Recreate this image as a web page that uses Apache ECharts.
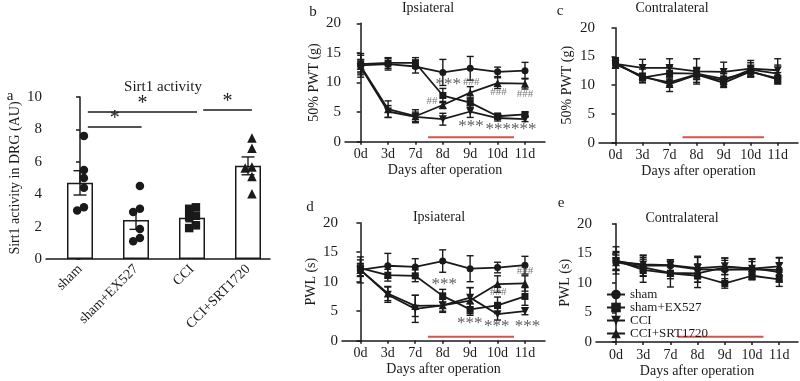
<!DOCTYPE html>
<html lang="en">
<head>
<meta charset="UTF-8">
<title>Sirt1 activity and pain thresholds</title>
<script src="https://cdn.jsdelivr.net/npm/echarts@6/dist/echarts.min.js"></script>
<style>
    html, body { margin: 0; padding: 0; background: #fff; }
    #chart { width: 800px; height: 381px; }
</style>
</head>
<body>
<div id="chart"></div>
<script>
    var groups = ['sham', 'sham+EX527', 'CCI', 'CCI+SRT1720'];
    var days = ['0d', '3d', '7d', '8d', '9d', '10d', '11d'];

    // a: Sirt1 activity, one dot per animal
    var dotsSham = [7.6, 5.5, 5.0, 4.4, 3.2, 3.0];
    var dotsEx527 = [4.5, 3.1, 2.9, 1.85, 1.3, 1.1];
    var dotsCci = [3.19, 3.1, 2.67, 2.59, 2.08, 1.91];
    var dotsSrt = [7.47, 6.83, 5.68, 5.62, 5.1, 4.03];
    var barMean = [4.7, 2.4, 2.55, 5.75];
    var barSem = [0.75, 0.57, 0.25, 0.55];
    // significance brackets: from group, to group, height
    var brackets = [[0.14, 1.1, 8.19], [0.14, 2.09, 9.07], [2.2, 3.07, 9.2]];

    // b: ipsilateral 50% PWT (g)
    var pwtIpsiSham = [12.9, 13.1, 12.7, 11.7, 12.4, 11.8, 12.0];
    var pwtIpsiEx = [13.1, 13.3, 13.3, 7.8, 6.6, 4.3, 4.6];
    var pwtIpsiCci = [12.6, 5.1, 4.2, 3.8, 5.1, 4.0, 3.8];
    var pwtIpsiSrt = [12.8, 5.5, 4.3, 6.2, 8.3, 9.9, 9.8];
    var pwtIpsiSemSham = [2.0, 1.0, 1.1, 2.2, 2.0, 0.8, 1.4];
    var pwtIpsiSemEx = [1.5, 0.9, 0.9, 1.2, 0.8, 0.5, 0.4];
    var pwtIpsiSemCci = [1.3, 1.0, 0.8, 1.0, 1.0, 0.5, 0.4];
    var pwtIpsiSemSrt = [1.0, 1.4, 1.1, 0.6, 1.0, 0.9, 0.9];

    // c: contralateral 50% PWT (g)
    var pwtContraSham = [13.8, 11.4, 10.5, 11.9, 10.4, 12.4, 11.0];
    var pwtContraEx = [13.9, 11.3, 12.1, 12.0, 11.1, 12.3, 11.2];
    var pwtContraCci = [13.7, 13.0, 13.0, 12.4, 12.3, 12.9, 12.6];
    var pwtContraSrt = [13.6, 11.6, 10.2, 11.8, 10.8, 12.7, 12.0];
    var pwtContraSemSham = [0.8, 0.6, 0.6, 0.9, 0.6, 0.8, 0.7];
    var pwtContraSemEx = [0.9, 0.8, 1.2, 1.0, 1.0, 0.9, 1.0];
    var pwtContraSemCci = [0.7, 1.5, 1.6, 2.2, 1.7, 1.4, 2.0];
    var pwtContraSemSrt = [0.6, 1.2, 1.3, 1.3, 1.2, 1.2, 1.5];

    // d: ipsilateral PWL (s)
    var pwlIpsiSham = [12.0, 12.7, 12.5, 13.5, 12.2, 12.4, 12.8];
    var pwlIpsiEx = [12.3, 11.1, 11.0, 7.6, 5.3, 6.0, 7.5];
    var pwlIpsiCci = [12.0, 7.8, 5.4, 6.0, 7.3, 4.5, 5.0];
    var pwlIpsiSrt = [12.0, 8.0, 5.9, 6.0, 6.8, 9.6, 9.7];
    var pwlIpsiSemSham = [2.2, 2.1, 1.4, 1.9, 2.2, 0.9, 1.5];
    var pwlIpsiSemEx = [1.4, 1.0, 1.0, 1.1, 1.0, 1.4, 1.5];
    var pwlIpsiSemCci = [1.0, 1.3, 2.3, 1.2, 1.7, 1.0, 0.6];
    var pwlIpsiSemSrt = [1.1, 1.2, 1.8, 1.0, 2.2, 1.4, 1.3];

    // e: contralateral PWL (s)
    var pwlContraSham = [13.7, 12.9, 12.9, 12.3, 12.2, 12.3, 12.2];
    var pwlContraEx = [13.8, 12.2, 11.6, 11.2, 9.9, 11.2, 10.6];
    var pwlContraCci = [13.6, 13.1, 13.0, 12.5, 12.8, 12.4, 12.8];
    var pwlContraSrt = [13.5, 12.6, 11.7, 11.6, 12.6, 12.5, 11.8];
    var pwlContraSemSham = [1.6, 1.8, 1.0, 2.2, 2.0, 1.8, 2.0];
    var pwlContraSemEx = [2.3, 2.1, 2.3, 2.0, 0.8, 0.6, 1.2];
    var pwlContraSemCci = [1.5, 1.5, 0.9, 1.8, 1.4, 1.6, 1.5];
    var pwlContraSemSrt = [1.2, 1.4, 1.0, 1.5, 1.2, 1.1, 1.6];

    // significance marks [day position, value, text]
    var notesB = [[3.2, 10.1, '***'], [4.04, 10.1, '###'], [2.6, 6.8, '##'], [5.03, 8.3, '###'],
                  [6.0, 8.0, '###'], [4.03, 3.1, '***'], [5.49, 2.5, '******']];
    var notesD = [[3.06, 10.0, '***'], [6.0, 11.8, '###'], [5.03, 8.3, '###'],
                  [3.99, 3.5, '***'], [4.97, 2.9, '***'], [6.09, 2.9, '***']];
    // treatment period (red line under the curves): [from, to, level]
    var treatB = [2.46, 5.6, 0.75];
    var treatC = [2.48, 5.49, 0.94];
    var treatD = [2.46, 5.6, 0.68];
    var treatE = [2.27, 5.42, 0.9];

    var font = 'Liberation Serif';
    var ink = '#1a1a1a';
    var markers = [
        {symbol: 'circle', rotate: 0, size: 7},
        {symbol: 'rect', rotate: 0, size: 7},
        {symbol: 'triangle', rotate: 180, size: 8},
        {symbol: 'triangle', rotate: 0, size: 8}
    ];

    var chart = echarts.init(document.getElementById('chart'));
    var dayIdx = days.map(function (d, i) { return i; });

    function yAxisFor(gi, max, interval, name, gap) {
        return {
            type: 'value', gridIndex: gi, min: 0, max: max, interval: interval,
            name: name, nameLocation: 'middle', nameGap: gap, nameRotate: 90,
            nameTextStyle: {fontFamily: font, fontSize: 14, color: ink},
            axisLine: {show: true, lineStyle: {color: ink, width: 1.5}},
            axisTick: {show: true, length: 4, lineStyle: {color: ink, width: 1.5}},
            axisLabel: {fontFamily: font, fontSize: 15, color: ink, margin: 4},
            splitLine: {show: false}
        };
    }

    function dayAxis(gi, min, max) {
        return {
            type: 'value', gridIndex: gi, min: min, max: max,
            name: 'Days after operation', nameLocation: 'middle', nameGap: 22,
            nameTextStyle: {fontFamily: font, fontSize: 14, color: ink},
            axisLine: {show: true, onZero: false, lineStyle: {color: ink, width: 1.5}},
            axisTick: {show: true, length: 3, customValues: dayIdx, lineStyle: {color: ink, width: 1.5}},
            axisLabel: {
                fontFamily: font, fontSize: 14, color: ink, margin: 6, customValues: dayIdx,
                formatter: function (v) { return days[Math.round(v)]; }
            },
            splitLine: {show: false}
        };
    }

    function errorSeries(ai, pts, cap) {
        return {
            type: 'custom', xAxisIndex: ai, yAxisIndex: ai, z: 2, silent: true,
            encode: {x: 0, y: 1},
            data: pts,
            renderItem: function (params, api) {
                var x = api.value(0), m = api.value(1), s = api.value(2);
                var top = api.coord([x, m + s]);
                var bot = api.coord([x, m - s]);
                var st = {stroke: ink, lineWidth: 1.4};
                return {
                    type: 'group', children: [
                        {type: 'line', shape: {x1: top[0], y1: top[1], x2: bot[0], y2: bot[1]}, style: st},
                        {type: 'line', shape: {x1: top[0] - cap, y1: top[1], x2: top[0] + cap, y2: top[1]}, style: st},
                        {type: 'line', shape: {x1: bot[0] - cap, y1: bot[1], x2: bot[0] + cap, y2: bot[1]}, style: st}
                    ]
                };
            }
        };
    }

    // spread dots of one group sideways when they would overlap
    var DOT_SHIFT = 0.07, DOT_SPREAD = 0.12;
    function swarm(values, gi) {
        var placed = [];
        return values.map(function (v) {
            var steps = [0, -1, 1];
            for (var k = 0; k < steps.length; k++) {
                var clash = placed.some(function (p) {
                    return p.s === steps[k] && Math.abs(p.v - v) < 0.42;
                });
                if (!clash) {
                    placed.push({v: v, s: steps[k]});
                    return [gi + DOT_SHIFT + steps[k] * DOT_SPREAD, v];
                }
            }
            return [gi + DOT_SHIFT, v];
        });
    }

    var series = [];

    // panel a
    series.push({
        type: 'bar', xAxisIndex: 0, yAxisIndex: 0, barWidth: 26, z: 1, silent: true,
        itemStyle: {color: '#fff', borderColor: ink, borderWidth: 1.5},
        data: barMean.map(function (v, i) { return [i, v]; }),
        markLine: {
            silent: true, symbol: 'none',
            lineStyle: {color: ink, width: 1.5, type: 'solid'},
            label: {show: true, position: 'middle', formatter: '*', fontFamily: font, fontSize: 20, color: ink, distance: -2},
            data: brackets.map(function (b) { return [{coord: [b[0], b[2]]}, {coord: [b[1], b[2]]}]; })
        }
    });
    series.push(errorSeries(0, barMean.map(function (v, i) { return [i, v, barSem[i]]; }), 6.5));
    [dotsSham, dotsEx527, dotsCci, dotsSrt].forEach(function (dots, gi) {
        var mk = [markers[0], markers[0], markers[1], markers[3]][gi];
        series.push({
            type: 'scatter', xAxisIndex: 0, yAxisIndex: 0, z: 4, silent: true,
            symbol: mk.symbol, symbolSize: mk.size + 1.5,
            itemStyle: {color: ink, opacity: 1},
            data: swarm(dots, gi)
        });
    });

    function linePanel(ai, means, sems, treat) {
        means.forEach(function (arr, gi) {
            series.push(errorSeries(ai, arr.map(function (v, i) { return [i, v, sems[gi][i]]; }), 3.5));
        });
        means.forEach(function (arr, gi) {
            var mk = markers[gi];
            series.push({
                name: groups[gi], type: 'line', xAxisIndex: ai, yAxisIndex: ai, z: 3,
                symbol: mk.symbol, symbolRotate: mk.rotate, symbolSize: mk.size,
                lineStyle: {color: ink, width: 1.8},
                itemStyle: {color: ink},
                data: arr.map(function (v, i) { return [i, v]; })
            });
        });
        series.push({
            type: 'line', xAxisIndex: ai, yAxisIndex: ai, z: 1, silent: true, symbol: 'none',
            lineStyle: {color: '#d2554d', width: 2},
            data: [[treat[0], treat[2]], [treat[1], treat[2]]]
        });
    }

    function notePanel(ai, notes) {
        series.push({
            type: 'scatter', xAxisIndex: ai, yAxisIndex: ai, z: 6, silent: true,
            symbolSize: 0, itemStyle: {color: 'transparent'},
            label: {
                show: true, position: 'inside',
                formatter: function (p) { return p.value[2]; }
            },
            data: notes.map(function (n) {
                var hash = n[2].charAt(0) === '#';
                return {
                    value: n,
                    label: {
                        fontFamily: font, color: hash ? '#555' : '#333',
                        fontSize: hash ? 11 : 17,
                        offset: hash ? [0, 0] : [0, 3]
                    }
                };
            })
        });
    }

    linePanel(1, [pwtIpsiSham, pwtIpsiEx, pwtIpsiCci, pwtIpsiSrt],
        [pwtIpsiSemSham, pwtIpsiSemEx, pwtIpsiSemCci, pwtIpsiSemSrt], treatB);
    linePanel(2, [pwtContraSham, pwtContraEx, pwtContraCci, pwtContraSrt],
        [pwtContraSemSham, pwtContraSemEx, pwtContraSemCci, pwtContraSemSrt], treatC);
    linePanel(3, [pwlIpsiSham, pwlIpsiEx, pwlIpsiCci, pwlIpsiSrt],
        [pwlIpsiSemSham, pwlIpsiSemEx, pwlIpsiSemCci, pwlIpsiSemSrt], treatD);
    linePanel(4, [pwlContraSham, pwlContraEx, pwlContraCci, pwlContraSrt],
        [pwlContraSemSham, pwlContraSemEx, pwlContraSemCci, pwlContraSemSrt], treatE);
    notePanel(1, notesB);
    notePanel(3, notesD);

    function label(text, x, y, size) {
        return {
            type: 'text', x: x, y: y, silent: true,
            style: {text: text, fontFamily: font, fontSize: size, fill: ink, textAlign: 'center', textVerticalAlign: 'middle'}
        };
    }

    var option = {
        animation: false,
        backgroundColor: '#fff',
        grid: [
            {left: 46, top: 97, width: 224, height: 162},
            {left: 345, top: 23.3, width: 200, height: 118.4},
            {left: 599, top: 27.7, width: 199, height: 115},
            {left: 342, top: 222.7, width: 203, height: 118},
            {left: 596, top: 223.7, width: 202, height: 118.3}
        ],
        xAxis: [
            {
                type: 'value', gridIndex: 0, min: -0.607, max: 3.393,
                axisLine: {show: true, onZero: false, lineStyle: {color: ink, width: 1.5}},
                axisTick: {show: false},
                axisLabel: {
                    fontFamily: font, fontSize: 14, color: ink, rotate: 45, margin: 8,
                    customValues: [0, 1, 2, 3],
                    formatter: function (v) { return groups[Math.round(v)]; }
                },
                splitLine: {show: false}
            },
            dayAxis(1, -0.573, 6.73),
            dayAxis(2, -0.61, 6.75),
            dayAxis(3, -0.67, 6.73),
            dayAxis(4, -0.735, 6.69)
        ],
        yAxis: [
            yAxisFor(0, 10, 2, 'Sirt1 activity in DRG (AU)', 24),
            yAxisFor(1, 20, 5, '50% PWT (g)', 24),
            yAxisFor(2, 20, 5, '50% PWT (g)', 25),
            yAxisFor(3, 20, 5, 'PWL (s)', 24),
            yAxisFor(4, 20, 5, 'PWL (s)', 24)
        ],
        legend: {
            data: groups, orient: 'vertical', left: 601, top: 283,
            itemGap: 0, itemWidth: 18, itemHeight: 12, selectedMode: false,
            textStyle: {fontFamily: font, fontSize: 13, color: ink}
        },
        graphic: [
            label('a', 10, 96, 15),
            label('Sirt1 activity', 163, 87, 15),
            label('b', 313, 12, 15),
            label('Ipsiateral', 428, 8, 14),
            label('c', 560, 11, 15),
            label('Contralateral', 672, 8, 14),
            label('d', 310, 207, 15),
            label('Ipsiateral', 439, 217, 14),
            label('e', 561, 203, 15),
            label('Contralateral', 682, 218, 14)
        ],
        series: series
    };

    chart.setOption(option);
</script>
</body>
</html>
